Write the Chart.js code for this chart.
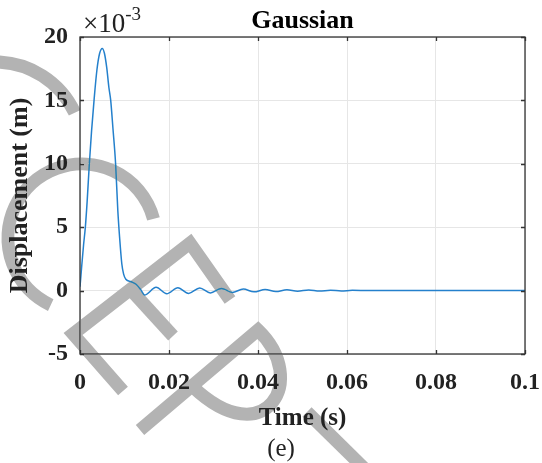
<!DOCTYPE html>
<html>
<head>
<meta charset="utf-8">
<script src="https://cdn.jsdelivr.net/npm/chart.js@4.4.0/dist/chart.umd.min.js"></script>
<style>
  html, body { margin: 0; padding: 0; background: #fff; }
  #wrap { width: 542px; height: 463px; }
</style>
</head>
<body>
<div id="wrap"><canvas id="chart" width="542" height="463"></canvas></div>
<script>
// values, displacement in units of 1e-3 m
const timeS = [0, 0.0004, 0.0008, 0.0012, 0.0016, 0.0021, 0.0026, 0.0032, 0.0038, 0.0044,
  0.0050, 0.0055, 0.0060, 0.0065, 0.0069, 0.0074, 0.0080, 0.0085, 0.0089, 0.0094,
  0.0098, 0.0103, 0.0115, 0.0126, 0.0137, 0.0145, 0.0171, 0.0195, 0.0220, 0.0244,
  0.0269, 0.0293, 0.0318, 0.0342, 0.0367, 0.0391, 0.0416, 0.0440, 0.0465, 0.0489,
  0.0514, 0.0538, 0.0563, 0.0587, 0.0612, 0.0650, 0.0750, 0.0850, 0.1000];
const displacement = [0.3, 2.0, 3.6, 5.0, 7.0, 10.0, 12.6, 15.2, 17.4, 18.7,
  19.1, 18.7, 17.6, 16.0, 15.0, 12.8, 10.0, 6.3, 4.2, 2.1,
  1.3, 0.9, 0.7, 0.5, 0.05, -0.35, 0.26, -0.25, 0.22, -0.22,
  0.20, -0.18, 0.17, -0.14, 0.12, -0.10, 0.09, -0.08, 0.07, -0.05,
  0.05, -0.04, 0.03, -0.03, 0.02, 0.0, 0.0, 0.0, 0.0];
const xTicks = [0, 0.02, 0.04, 0.06, 0.08, 0.1];
const yTicks = [-5, 0, 5, 10, 15, 20];

const FONT = '"Liberation Serif", "Times New Roman", serif';
const deg = Math.PI / 180;

// stamp drawn over the figure (partial "ACCEPTED" letters)
function drawStamp(ctx) {
  ctx.save();
  ctx.globalCompositeOperation = 'darken';
  ctx.strokeStyle = '#b3b3b3';
  ctx.lineWidth = 13;
  ctx.miterLimit = 2;
  ctx.beginPath(); ctx.arc(-5, 150, 88, 180 * deg, 335 * deg); ctx.stroke();
  ctx.beginPath(); ctx.arc(82, 238, 74, 115 * deg, 345 * deg); ctx.stroke();
  ctx.beginPath(); ctx.moveTo(123, 391); ctx.lineTo(73, 334); ctx.lineTo(190, 243); ctx.lineTo(230, 300); ctx.stroke();
  ctx.beginPath(); ctx.moveTo(131, 290); ctx.lineTo(173, 336); ctx.stroke();
  ctx.beginPath(); ctx.moveTo(140, 430); ctx.lineTo(258, 330); ctx.bezierCurveTo(310, 380, 265, 455, 193, 387); ctx.stroke();
  ctx.beginPath(); ctx.moveTo(307, 412); ctx.lineTo(370, 474); ctx.stroke();
  ctx.restore();
}

// matlab style box, inward ticks, title, exponent and caption
const matlabAxes = {
  id: 'matlabAxes',
  afterDraw(chart) {
    const ctx = chart.ctx;
    const a = chart.chartArea;
    const xs = chart.scales.x, ys = chart.scales.y;
    ctx.save();
    ctx.strokeStyle = '#333';
    ctx.lineWidth = 1.3;
    ctx.strokeRect(a.left, a.top, a.right - a.left, a.bottom - a.top);
    ctx.beginPath();
    xTicks.forEach(v => {
      const px = Math.round(xs.getPixelForValue(v)) + 0.5;
      ctx.moveTo(px, a.bottom); ctx.lineTo(px, a.bottom - 4);
      ctx.moveTo(px, a.top); ctx.lineTo(px, a.top + 4);
    });
    yTicks.forEach(v => {
      const py = Math.round(ys.getPixelForValue(v)) + 0.5;
      ctx.moveTo(a.left, py); ctx.lineTo(a.left + 4, py);
      ctx.moveTo(a.right, py); ctx.lineTo(a.right - 4, py);
    });
    ctx.stroke();

    ctx.fillStyle = '#000';
    ctx.textAlign = 'center';
    ctx.textBaseline = 'middle';
    ctx.font = 'bold 26px ' + FONT;
    ctx.fillText('Gaussian', (a.left + a.right) / 2, 21);

    ctx.fillStyle = '#222';
    ctx.textBaseline = 'alphabetic';
    ctx.textAlign = 'left';
    ctx.font = '27px ' + FONT;
    ctx.fillText('\u00d710', a.left + 3, 32);
    const w = ctx.measureText('\u00d710').width;
    ctx.font = '19px ' + FONT;
    ctx.fillText('-3', a.left + 3 + w, 20);

    ctx.textAlign = 'center';
    ctx.font = '25px ' + FONT;
    ctx.fillText('(e)', 281, 456);
    ctx.restore();

    drawStamp(ctx);
  }
};

const tickFont = { family: FONT, size: 24, weight: 'bold' };

new Chart(document.getElementById('chart'), {
  type: 'line',
  data: {
    datasets: [{
      data: timeS.map((t, i) => ({ x: t, y: displacement[i] })),
      borderColor: '#2480cc',
      borderWidth: 1.5,
      pointRadius: 0,
      cubicInterpolationMode: 'monotone',
      fill: false
    }]
  },
  options: {
    responsive: false,
    animation: false,
    devicePixelRatio: 1,
    layout: { padding: { left: 0, right: 17, top: 37, bottom: 0 } },
    plugins: {
      legend: { display: false },
      tooltip: { enabled: false },
      title: { display: false }
    },
    scales: {
      x: {
        type: 'linear', min: 0, max: 0.1,
        afterBuildTicks: s => { s.ticks = xTicks.map(v => ({ value: v })); },
        afterFit: s => { s.height = 109; s.paddingLeft = 0; s.paddingRight = 0; },
        grid: { color: '#e6e6e6', drawTicks: false },
        border: { display: false },
        ticks: {
          padding: 14, color: '#222', font: tickFont, maxRotation: 0, autoSkip: false,
          callback: v => String(+v.toFixed(2))
        },
        title: {
          display: true, text: 'Time (s)', color: '#222',
          font: { family: FONT, size: 25, weight: 'bold' },
          padding: { top: 0, bottom: 29 }
        }
      },
      y: {
        min: -5, max: 20,
        afterBuildTicks: s => { s.ticks = yTicks.map(v => ({ value: v })); },
        afterFit: s => { s.width = 80; s.paddingTop = 0; s.paddingBottom = 0; },
        grid: { color: '#e6e6e6', drawTicks: false },
        border: { display: false },
        ticks: { padding: 12, color: '#222', font: tickFont, callback: v => String(v) },
        title: {
          display: true, text: 'Displacement (m)', color: '#222',
          font: { family: FONT, size: 26, weight: 'bold' },
          padding: { top: 5, bottom: 0 }
        }
      }
    }
  },
  plugins: [matlabAxes]
});
</script>
</body>
</html>
